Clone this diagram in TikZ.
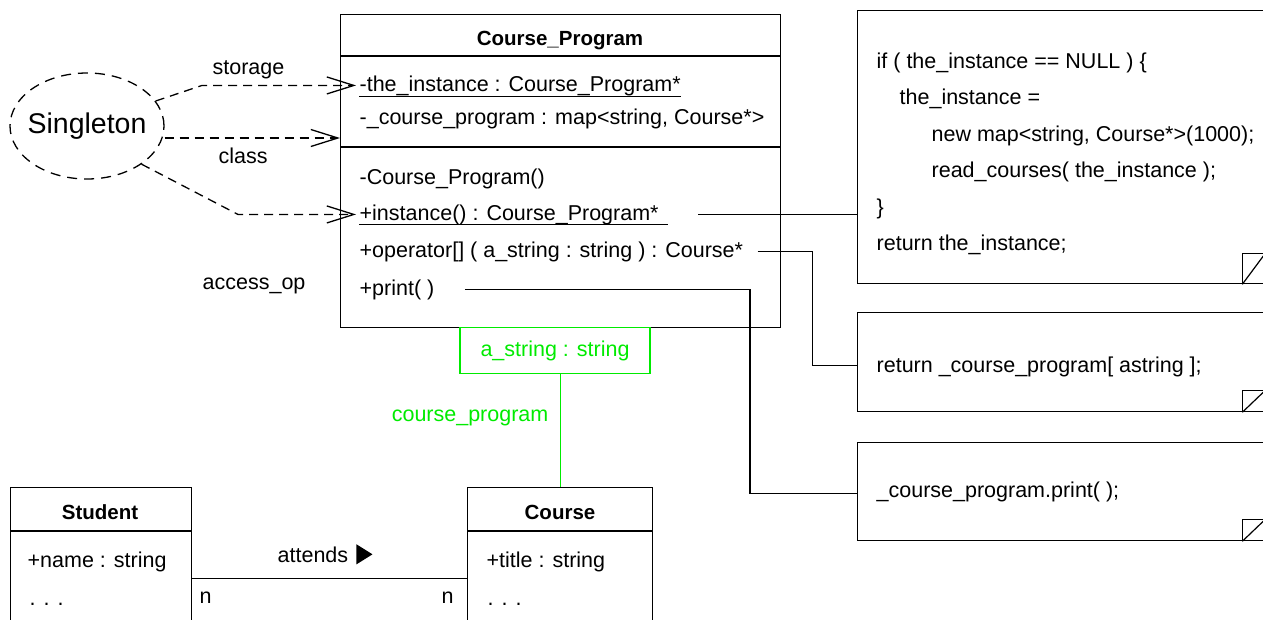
\documentclass[tikz,border=0pt]{standalone}
\usepackage{fontspec}
\setmainfont{Liberation Sans}
\usetikzlibrary{positioning, shapes.geometric, arrows.meta}
\definecolor{qualgreen}{RGB}{0,235,0}
\newcommand{\umlfont}{\fontsize{21.5}{26}\selectfont}
\newcommand{\umlbold}{\fontsize{20.5}{25}\selectfont\bfseries}

\begin{document}
\begin{tikzpicture}[x=1pt, y=-1pt, line width=1.3pt, font=\umlfont,
	box/.style={draw, rectangle, inner sep=0, anchor=north west},
	member/.style={inner sep=0, anchor=base west},
	title/.style={inner sep=0, anchor=base, font=\umlbold},
	note/.style={draw, rectangle, inner sep=0, anchor=north west, minimum width=407pt},
	dep/.style={dash pattern=on 9pt off 6pt, -{Straight Barb[length=27pt, width=17pt]}},
	fold/.style={line width=1.2pt}]
	\useasboundingbox (0,0) rectangle (1263,619);
	\clip (0,0) rectangle (1263,619);

	\node[box, minimum width=440pt, minimum height=313pt] (cp) at (340,14) {};
	\draw ([yshift=-42pt]cp.north west) -- ([yshift=-42pt]cp.north east);
	\draw ([yshift=-133pt]cp.north west) -- ([yshift=-133pt]cp.north east);
	\node[title] (cptitle) at (560,45) {Course\_Program};
	\node[member] (inst) at (359,91) {-the\_instance : Course\_Program*};
	\node[member] (map) at (359,124) {-\_course\_program : map<string, Course*>};
	\node[member] (ctor) at (359,184) {-Course\_Program()};
	\node[member] (getinst) at (359,220) {+instance() : Course\_Program*};
	\node[member] (index) at (359,257) {+operator[] ( a\_string : string ) : Course*};
	\node[member] (prnt) at (359,295) {+print( )};
	\draw[line width=1pt] ([yshift=-5pt]inst.base west) -- ([yshift=-5pt]inst.base east);
	\draw[line width=1pt] ([yshift=-4pt]getinst.base west) -- ([xshift=9pt, yshift=-4pt]getinst.base east);

	\node[draw=qualgreen, text=qualgreen, minimum width=190pt, minimum height=46pt, inner sep=0, anchor=north] (qualifier) at (555,327) {a\_string : string};
	\node[member, text=qualgreen, anchor=base east] (cplabel) at (549,421) {course\_program};

	\node[box, minimum width=181pt, minimum height=182pt] (student) at (10,487) {};
	\draw ([yshift=-44pt]student.north west) -- ([yshift=-44pt]student.north east);
	\node[title] (sttitle) at (100,519) {Student};
	\node[member] (stname) at (27,567) {+name : string};
	\node[member] (stdots) at (29,605) {. . .};

	\node[box, minimum width=185pt, minimum height=182pt] (course) at (467,487) {};
	\draw ([yshift=-44pt]course.north west) -- ([yshift=-44pt]course.north east);
	\node[title] (crtitle) at (560,519) {Course};
	\node[member] (crtitle2) at (486,567) {+title : string};
	\node[member] (crdots) at (487,605) {. . .};

	\draw[qualgreen] (qualifier.south -| course.north) -- (course.north);
	\draw (student.east) -- (course.west);
	\node[member] (attends) at (277,562) {attends};
	\node[isosceles triangle, isosceles triangle stretches, fill, draw=none, inner sep=0, minimum height=16pt, minimum width=20pt, right=7pt of attends] (attdir) {};
	\node[member] (nleft) at (199,603) {n};
	\node[member] (nright) at (441,603) {n};

	\node[note, minimum height=273pt] (note1) at (857,10) {};
	\node[member] (c1) at (876,68) {if ( the\_instance == NULL ) \{};
	\node[member] (c2) at (899,104.5) {the\_instance =};
	\node[member] (c3) at (931,141) {new map<string, Course*>(1000);};
	\node[member] (c4) at (931,177) {read\_courses( the\_instance );};
	\node[member] (c5) at (876,214) {\}};
	\node[member] (c6) at (876,250) {return the\_instance;};
	\draw[fold] ([xshift=-23pt]note1.south east) -- ++(0,-31) -- ++(23,0);
	\draw[fold] ([xshift=-23pt]note1.south east) -- ++(23,-31);

	\node[note, minimum height=99pt] (note2) at (857,312) {};
	\node[member] (c7) at (876,372) {return \_course\_program[ astring ];};
	\draw[fold] ([xshift=-23pt]note2.south east) -- ++(0,-22) -- ++(23,0);
	\draw[fold] ([xshift=-23pt]note2.south east) -- ++(23,-22);

	\node[note, minimum height=98pt] (note3) at (857,442) {};
	\node[member] (c8) at (876,497) {\_course\_program.print( );};
	\draw[fold] ([xshift=-23pt]note3.south east) -- ++(0,-22) -- ++(23,0);
	\draw[fold] ([xshift=-23pt]note3.south east) -- ++(23,-22);

	\draw ([xshift=39pt]getinst.east) -- (getinst.east -| note1.west);
	\draw ([xshift=14pt]index.east) -- ++(55,0) |- ([yshift=-3.5pt]note2.west);
	\draw ([xshift=30pt]prnt.east) -- ++(285,0) |- ([yshift=-2pt]note3.west);

	\node[ellipse, draw, dash pattern=on 10pt off 7pt, minimum width=154pt, minimum height=106pt, inner xsep=-6pt, inner ysep=0, font=\fontsize{28.5}{34}\selectfont] (single) at (87,126) {Singleton};
	\draw[dep] (single.20) -- ([xshift=-157pt]inst.west) -- ([xshift=-3pt]inst.west);
	\draw[dep] ([yshift=-12pt]single.east) -- ([yshift=-12pt]single.east -| cp.west);
	\draw[dep] (single.-35) -- ([xshift=-121pt]getinst.west) -- ([xshift=-3pt]getinst.west);
	\node[member] (lstorage) at (212,74) {storage};
	\node[member] (lclass) at (218,163) {class};
	\node[member] (laccess) at (202,289) {access\_op};
\end{tikzpicture}
\end{document}
